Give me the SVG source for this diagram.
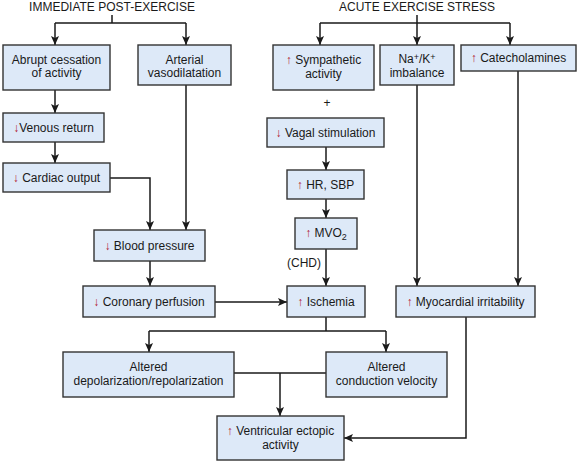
<svg xmlns="http://www.w3.org/2000/svg" width="577" height="462" viewBox="0 0 577 462">
<defs>
<style>
.bg{fill:#ffffff}
.box{fill:#dde9f8;stroke:#333333;stroke-width:1.4}
.t{font-family:"Liberation Sans",Arial,sans-serif;font-size:12px;fill:#1a1a1a;text-anchor:middle}
.h{font-family:"Liberation Sans",Arial,sans-serif;font-size:12px;fill:#1a1a1a;text-anchor:middle}
.r{fill:#b0172f}
.ln{fill:none;stroke:#1a1a1a;stroke-width:1.5}
.ar{fill:none;stroke:#1a1a1a;stroke-width:1.5;marker-end:url(#ah)}
</style>
<marker id="ah" markerUnits="userSpaceOnUse" markerWidth="10" markerHeight="10" viewBox="0 0 10 10" refX="9" refY="5" orient="auto">
<path d="M0,1 L9,5 L0,9 L2,5 Z" fill="#1a1a1a"/>
</marker>
</defs>
<rect class="bg" x="0" y="0" width="577" height="462"/>

<g id="headers">
<text class="h" x="112" y="11">IMMEDIATE POST-EXERCISE</text>
<text class="h" x="417" y="11">ACUTE EXERCISE STRESS</text>
</g>

<g id="connectors">
<path class="ln" d="M112,15 V23 M55,23 H186"/>
<path class="ar" d="M55,23 V45"/>
<path class="ar" d="M186,23 V45"/>
<path class="ln" d="M417,15 V23 M320,23 H510"/>
<path class="ar" d="M320,23 V45"/>
<path class="ar" d="M417,23 V45"/>
<path class="ar" d="M510,23 V45"/>
<path class="ar" d="M55,90 V113"/>
<path class="ar" d="M55,142 V163"/>
<path class="ar" d="M110,178 H150 V230"/>
<path class="ar" d="M186,85 V230"/>
<path class="ar" d="M150,261 V286"/>
<path class="ar" d="M215,302 H287"/>
<path class="ar" d="M326,147 V170"/>
<path class="ar" d="M326,199 V218"/>
<path class="ar" d="M326,249 V286"/>
<path class="ar" d="M417,85 V286"/>
<path class="ar" d="M518,71 V286"/>
<path class="ln" d="M326,317 V331 M149,331 H386"/>
<path class="ar" d="M149,331 V352"/>
<path class="ar" d="M386,331 V352"/>
<path class="ln" d="M234,373 H326"/>
<path class="ar" d="M280,373 V416"/>
<path class="ar" d="M466,317 V438 H344"/>
</g>

<g id="abrupt">
<rect class="box" x="3" y="45" width="107" height="45"/>
<text class="t" x="56.5" y="63.5">Abrupt cessation</text>
<text class="t" x="56.5" y="77">of activity</text>
</g>
<g id="arterial">
<rect class="box" x="138" y="45" width="93" height="40"/>
<text class="t" x="184.5" y="63.5">Arterial</text>
<text class="t" x="184.5" y="77">vasodilatation</text>
</g>
<g id="venous">
<rect class="box" x="3" y="113" width="101" height="29"/>
<text class="t" x="53.5" y="132"><tspan class="r">↓</tspan>Venous return</text>
</g>
<g id="cardiac">
<rect class="box" x="3" y="163" width="107" height="29"/>
<text class="t" x="56.5" y="182"><tspan class="r">↓</tspan> Cardiac output</text>
</g>
<g id="bp">
<rect class="box" x="94" y="230" width="111" height="31"/>
<text class="t" x="149.5" y="249.5"><tspan class="r">↓</tspan> Blood pressure</text>
</g>
<g id="coronary">
<rect class="box" x="83" y="286" width="132" height="31"/>
<text class="t" x="149" y="306"><tspan class="r">↓</tspan> Coronary perfusion</text>
</g>
<g id="sympathetic">
<rect class="box" x="273" y="45" width="101" height="45"/>
<text class="t" x="323.5" y="64"><tspan class="r">↑</tspan> Sympathetic</text>
<text class="t" x="323.5" y="78">activity</text>
</g>
<g id="plus">
<text class="t" x="327" y="107">+</text>
</g>
<g id="nak">
<rect class="box" x="380" y="45" width="74" height="40"/>
<text class="t" x="417" y="63">Na<tspan font-size="9" dy="-3">+</tspan><tspan dy="3">/K</tspan><tspan font-size="9" dy="-3">+</tspan></text>
<text class="t" x="417" y="77">imbalance</text>
</g>
<g id="catecholamines">
<rect class="box" x="461" y="45" width="115" height="26"/>
<text class="t" x="518.5" y="62"><tspan class="r">↑</tspan> Catecholamines</text>
</g>
<g id="vagal">
<rect class="box" x="267" y="118" width="117" height="29"/>
<text class="t" x="325.5" y="136.5"><tspan class="r">↓</tspan> Vagal stimulation</text>
</g>
<g id="hr">
<rect class="box" x="287" y="170" width="77" height="29"/>
<text class="t" x="325.5" y="189"><tspan class="r">↑</tspan> HR, SBP</text>
</g>
<g id="mvo2">
<rect class="box" x="295" y="218" width="62" height="31"/>
<text class="t" x="326" y="237"><tspan class="r">↑</tspan> MVO<tspan font-size="9" dy="3">2</tspan></text>
</g>
<g id="chd">
<text class="t" x="304" y="267">(CHD)</text>
</g>
<g id="ischemia">
<rect class="box" x="287" y="286" width="78" height="31"/>
<text class="t" x="326" y="306"><tspan class="r">↑</tspan> Ischemia</text>
</g>
<g id="myocardial">
<rect class="box" x="396" y="286" width="139" height="31"/>
<text class="t" x="465.5" y="306"><tspan class="r">↑</tspan> Myocardial irritability</text>
</g>
<g id="depol">
<rect class="box" x="63" y="352" width="171" height="45"/>
<text class="t" x="148.5" y="371">Altered</text>
<text class="t" x="148.5" y="385">depolarization/repolarization</text>
</g>
<g id="conduction">
<rect class="box" x="326" y="352" width="121" height="45"/>
<text class="t" x="386.5" y="371">Altered</text>
<text class="t" x="386.5" y="385">conduction velocity</text>
</g>
<g id="ventricular">
<rect class="box" x="217" y="416" width="127" height="44"/>
<text class="t" x="280.5" y="435"><tspan class="r">↑</tspan> Ventricular ectopic</text>
<text class="t" x="280.5" y="449">activity</text>
</g>
</svg>
